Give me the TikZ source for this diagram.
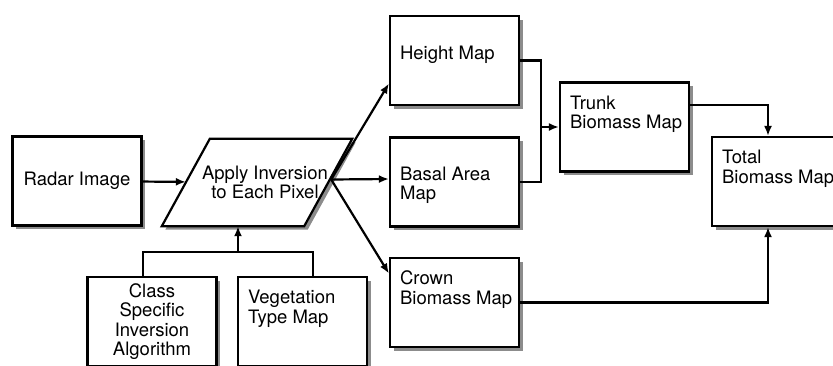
\documentclass[tikz,border=0pt]{standalone}
\usepackage{fontspec}
\setmainfont{TeX Gyre Heros}
\usetikzlibrary{shadows, arrows.meta, positioning, backgrounds}
\definecolor{shadowgray}{HTML}{8C8C8C}
\tikzstyle{line}      = [line width=2.2pt]
\tikzstyle{arrow}     = [line width=2.2pt,-{Latex[length=10pt,width=8pt]}]
\tikzstyle{mapbox}    = [draw, line width=2.2pt, fill=white, minimum width=129pt, minimum height=89pt, inner sep=0pt, align=center,
                         drop shadow={shadow xshift=3.5pt, shadow yshift=-3.5pt, fill=shadowgray, opacity=1}]
\tikzstyle{maptext}   = [anchor=north west, inner sep=0pt, align=left, xshift=11pt, yshift=-14pt]
\tikzstyle{tiltbody}  = [minimum width=142pt, minimum height=87pt, inner sep=0pt, align=center]
\tikzstyle{tiltedge}  = [draw, line width=2.2pt, fill=white,
                         drop shadow={shadow xshift=3.5pt, shadow yshift=-3.5pt, fill=shadowgray, opacity=1}]

\begin{document}
\begin{tikzpicture}[x=1pt, y=-1pt, font=\fontsize{18.5}{19.5}\selectfont]

\useasboundingbox (0,0) rectangle (833,365);

\node[mapbox] (radar)  at (77,181)    {Radar Image};
\node[tiltbody] (apply) at (257,182.5) {\hspace*{16pt}Apply Inversion\\\hspace*{16pt}to Each Pixel};
\begin{scope}[on background layer]
\draw[tiltedge] ([xshift=24pt]apply.north west) -- ([xshift=24pt]apply.north east)
  -- ([xshift=-24pt]apply.south east) -- ([xshift=-24pt]apply.south west) -- cycle;
\end{scope}

\node[mapbox, label={[maptext, yshift=-17pt]north west:Height Map}]       (height) at (454.5,60.5)  {};
\node[mapbox, label={[maptext, yshift=-16pt]north west:Basal Area\\Map}]  (basal)  at (454.5,182)   {};
\node[mapbox, label={[maptext]north west:Crown\\Biomass Map}]             (crown)  at (454.5,302.5) {};
\node[mapbox, label={[maptext]north west:Trunk\\Biomass Map}]             (trunk)  at (624.5,127)   {};
\node[mapbox, label={[maptext]north west:Total\\Biomass Map}]             (total)  at (776.5,181.5) {};

\node[mapbox] (class) at (152,321.5) {Class\\Specific\\Inversion\\Algorithm};
\node[mapbox, label={[maptext]north west:Vegetation\\Type Map}] (veg) at (302.5,321.5) {};

\coordinate (join) at (541,127);
\coordinate (feed) at (238,252);

% inputs
\draw[arrow] (radar) -- (apply);
\draw[line] ([xshift=-9pt]class.north) |- (feed) -| ([xshift=10.5pt]veg.north);
\draw[arrow] (feed) -- (feed |- apply.south);

% inversion outputs
\draw[arrow] ([xshift=3pt,yshift=3pt]apply.east) -- ([yshift=-23pt]height.west);
\draw[arrow] ([xshift=3pt,yshift=3pt]apply.east) -- ([yshift=3pt]basal.west);
\draw[arrow] ([xshift=3pt,yshift=3pt]apply.east) -- ([yshift=29pt]crown.west);

% biomass
\draw[line] (height.east) -| (join) |- (basal.east);
\draw[arrow] (join) -- (trunk.west);
\draw[arrow] ([yshift=22pt]trunk.east) -| ([xshift=-8.5pt]total.north);
\draw[arrow] (crown.east) -| ([xshift=-8.5pt]total.south);

\end{tikzpicture}
\end{document}
